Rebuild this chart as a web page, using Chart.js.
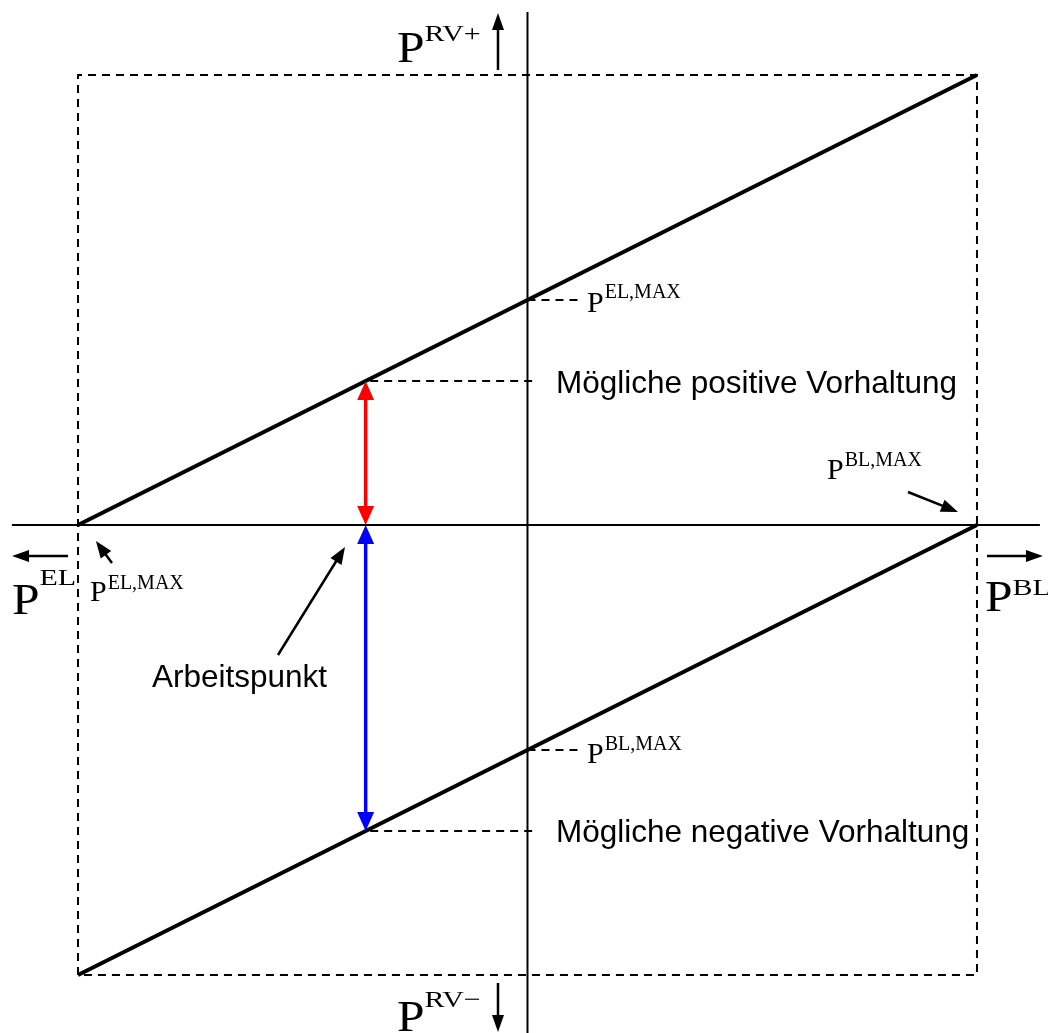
<!DOCTYPE html>
<html><head><meta charset="utf-8">
<script src="https://cdn.jsdelivr.net/npm/chart.js@4"></script>
<style>html,body{margin:0;padding:0;background:#fff;overflow:hidden}</style>
</head><body>
<canvas id="c" width="1048" height="1033"></canvas>
<script>
// ---- data (units: -1 .. 1 = maximum power) ----
const viewX = [-1.1735, 1.158];
const viewY = [-1.1289, 1.1667];
const boxX = [-1, -1, 1, 1, -1];
const boxY = [-1, 1, 1, -1, -1];
const hAxisX = [-1.147, 1.14];
const vAxisY = [-1.129, 1.14];
const upperLineX = [-1, 1];
const upperLineY = [0, 1];
const lowerLineX = [-1, 1];
const lowerLineY = [-1, 0];
const workPointX = -0.36;
const posReserveY = 0.32;
const negReserveY = -0.68;
const leaderFromX = [0, 0, -0.35, -0.35];
const leaderToX = [0.112, 0.112, 0.012, 0.012];
const leaderY = [0.5, -0.5, 0.32, -0.68];
const arrowFromX = [-0.0656, -0.0656, -1.0222, 1.0222, -0.9244, 0.8465, -0.5551];
const arrowFromY = [1.0111, -1.0178, -0.0689, -0.0689, -0.0844, 0.0733, -0.2889];
const arrowToX = [-0.0656, -0.0656, -1.1468, 1.1468, -0.96, 0.9577, -0.406];
const arrowToY = [1.1378, -1.1267, -0.0689, -0.0689, -0.0356, 0.0289, -0.0489];
const symMain = ['P', 'P', 'P', 'P', 'P', 'P', 'P', 'P'];
const symSup = ['RV+', 'RV\u2212', 'EL', 'BL', 'EL,MAX', 'BL,MAX', 'EL,MAX', 'BL,MAX'];
const symX = [-0.2903, -0.2903, -1.1468, 1.0178, 0.1324, 0.1324, -0.9733, 0.6663];
const symY = [1.0289, -1.1244, -0.1978, -0.1911, 0.4733, -0.5289, -0.1689, 0.1022];
const textLabels = ['M\u00f6gliche positive Vorhaltung', 'M\u00f6gliche negative Vorhaltung', 'Arbeitspunkt'];
const textX = [0.0634, 0.0634, -0.8354];
const textY = [0.2933, -0.7044, -0.36];

// ---- styles ----
const symStyle = ['big', 'big', 'big', 'big', 'mid', 'mid', 'mid', 'mid'];
const symRise = [21, 24, 29, 16, 14, 13, 12, 13];

const pts = (xs, ys) => xs.map((x, i) => ({x, y: ys[i]}));
const datasets = [];
datasets.push({data: pts(boxX, boxY), borderColor: '#000', borderWidth: 2, borderDash: [8, 6]});
datasets.push({data: pts([0, 0], vAxisY), borderColor: '#000', borderWidth: 2});
datasets.push({data: pts(hAxisX, [0, 0]), borderColor: '#000', borderWidth: 2});
datasets.push({data: pts(upperLineX, upperLineY), borderColor: '#000', borderWidth: 4});
datasets.push({data: pts(lowerLineX, lowerLineY), borderColor: '#000', borderWidth: 4});
leaderY.forEach((y, i) => datasets.push({data: pts([leaderFromX[i], leaderToX[i]], [y, y]), borderColor: '#000', borderWidth: 2, borderDash: [8, 6]}));
arrowFromX.forEach((x, i) => {
  const small = i >= 4;
  datasets.push({data: pts([x, arrowToX[i]], [arrowFromY[i], arrowToY[i]]), showLine: false, arrow: {color: '#000', width: 2.5, len: 17, head: small ? 13 : 12, both: false}});
});
datasets.push({data: pts([workPointX, workPointX], [0, posReserveY]), showLine: false, arrow: {color: '#ff0000', width: 3.5, len: 19, head: 17, both: true}});
datasets.push({data: pts([workPointX, workPointX], [0, negReserveY]), showLine: false, arrow: {color: '#0000ff', width: 3.5, len: 19, head: 17, both: true}});
datasets.forEach(d => { d.pointRadius = 0; d.clip = false; if (d.showLine === undefined) d.showLine = true; d.fill = false; });

function head(ctx, tx, ty, fx, fy, len, w) {
  const a = Math.atan2(ty - fy, tx - fx);
  const bx = tx - len * Math.cos(a), by = ty - len * Math.sin(a);
  const nx = -Math.sin(a) * w / 2, ny = Math.cos(a) * w / 2;
  ctx.beginPath();
  ctx.moveTo(tx, ty);
  ctx.lineTo(bx + nx, by + ny);
  ctx.lineTo(bx - nx, by - ny);
  ctx.closePath();
  ctx.fill();
  return [bx + 2 * Math.cos(a), by + 2 * Math.sin(a)];
}

const arrowPlugin = {
  id: 'arrows',
  afterDatasetsDraw(chart) {
    const ctx = chart.ctx;
    chart.data.datasets.forEach((ds, i) => {
      if (!ds.arrow) return;
      const m = chart.getDatasetMeta(i).data;
      const p0 = m[0], p1 = m[1];
      const o = ds.arrow;
      ctx.save();
      ctx.fillStyle = o.color; ctx.strokeStyle = o.color; ctx.lineWidth = o.width;
      const e = head(ctx, p1.x, p1.y, p0.x, p0.y, o.len, o.head);
      let s = [p0.x, p0.y];
      if (o.both) s = head(ctx, p0.x, p0.y, p1.x, p1.y, o.len, o.head);
      ctx.beginPath();
      ctx.moveTo(s[0], s[1]);
      ctx.lineTo(e[0], e[1]);
      ctx.stroke();
      ctx.restore();
    });
  }
};

const textPlugin = {
  id: 'texts',
  afterDraw(chart) {
    const ctx = chart.ctx, sx = chart.scales.x, sy = chart.scales.y;
    ctx.save();
    ctx.fillStyle = '#000';
    ctx.textBaseline = 'alphabetic';
    ctx.textAlign = 'left';
    symMain.forEach((t, i) => {
      const x = sx.getPixelForValue(symX[i]), y = sy.getPixelForValue(symY[i]);
      const big = symStyle[i] === 'big';
      const mScale = big ? 1.1 : 1, sScale = big ? 1.25 : 1;
      ctx.save();
      ctx.font = (big ? 45 : 30) + 'px "Liberation Serif", "Times New Roman", serif';
      ctx.translate(x, y); ctx.scale(mScale, 1);
      ctx.fillText(t, 0, 0);
      const w = ctx.measureText(t).width * mScale;
      ctx.restore();
      ctx.save();
      ctx.font = (big ? 24 : 20) + 'px "Liberation Serif", "Times New Roman", serif';
      ctx.translate(x + w + (big ? 0 : 1), y - symRise[i]); ctx.scale(sScale, 1);
      ctx.fillText(symSup[i], 0, 0);
      ctx.restore();
    });
    ctx.font = '31.5px "Liberation Sans", Arial, sans-serif';
    textLabels.forEach((t, i) => {
      ctx.fillText(t, sx.getPixelForValue(textX[i]), sy.getPixelForValue(textY[i]));
    });
    ctx.restore();
  }
};

new Chart(document.getElementById('c'), {
  type: 'scatter',
  data: {datasets},
  options: {
    responsive: false,
    animation: false,
    devicePixelRatio: 1,
    events: [],
    layout: {padding: 0},
    plugins: {legend: {display: false}, tooltip: {enabled: false}},
    scales: {
      x: {type: 'linear', min: viewX[0], max: viewX[1], display: false},
      y: {type: 'linear', min: viewY[0], max: viewY[1], display: false}
    }
  },
  plugins: [arrowPlugin, textPlugin]
});
</script>
</body></html>
